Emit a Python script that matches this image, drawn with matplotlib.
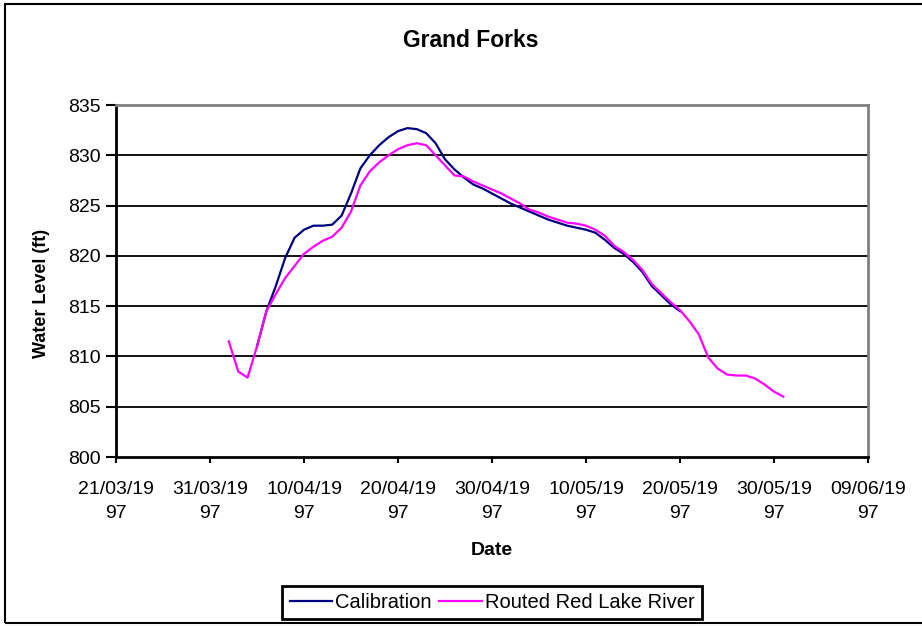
import matplotlib
matplotlib.use("Agg")
import matplotlib.pyplot as plt
from matplotlib.patches import Rectangle
from matplotlib.lines import Line2D
import pandas as pd

plt.rcParams["font.family"] = ["Liberation Sans", "DejaVu Sans"]

# daily water levels (ft)
calib_start = "1997-04-05"
calibration = [
    811.0, 814.5, 817.0, 819.8, 821.8, 822.6, 823.0, 823.0, 823.1, 824.0,
    826.2, 828.7, 830.0, 831.0, 831.8, 832.4, 832.7, 832.6, 832.2, 831.2,
    829.6, 828.6, 827.8, 827.1, 826.7, 826.2, 825.7, 825.2, 824.8, 824.4,
    824.0, 823.6, 823.3, 823.0, 822.8, 822.6, 822.3, 821.6, 820.8, 820.2,
    819.4, 818.4, 817.0, 816.1, 815.2, 814.5,
]

routed_start = "1997-04-02"
routed = [
    811.5, 808.5, 807.9, 811.0, 814.5, 816.2, 817.8, 819.0, 820.2, 820.9,
    821.5, 821.9, 822.8, 824.4, 827.0, 828.4, 829.3, 830.0, 830.6, 831.0,
    831.2, 831.0, 830.0, 829.0, 828.0, 827.9, 827.4, 827.0, 826.6, 826.2,
    825.7, 825.2, 824.6, 824.3, 823.9, 823.6, 823.3, 823.2, 823.0, 822.6,
    822.0, 821.0, 820.4, 819.6, 818.6, 817.2, 816.3, 815.4, 814.6, 813.5,
    812.2, 809.9, 808.8, 808.2, 808.1, 808.1, 807.8, 807.2, 806.5, 806.0,
]

calib_dates = pd.date_range(calib_start, periods=len(calibration), freq="D")
routed_dates = pd.date_range(routed_start, periods=len(routed), freq="D")

W, H = 922, 626
fig = plt.figure(figsize=(W / 100, H / 100), dpi=100)

# outer chart border
fig.patches.append(Rectangle((5 / W, 3 / H), 1.2, 1 - 7 / H, transform=fig.transFigure,
                             fill=False, edgecolor="black", linewidth=1.5))

ax = fig.add_axes([116 / W, 1 - 457 / H, (868 - 116) / W, (457 - 105) / H])

ax.plot(calib_dates, calibration, color="#000080", linewidth=1.6)
ax.plot(routed_dates, routed, color="#FF00FF", linewidth=1.6)

ax.set_xlim(pd.Timestamp("1997-03-21"), pd.Timestamp("1997-06-09"))
ax.set_ylim(800, 835)
ax.set_yticks(range(800, 836, 5))
ticks = pd.date_range("1997-03-21", "1997-06-09", freq="10D")
ax.set_xticks(ticks)
ax.set_xticklabels([d.strftime("%d/%m/%Y")[:8] + "\n" + d.strftime("%d/%m/%Y")[8:] for d in ticks],
                   linespacing=1.55)

for y in range(805, 835, 5):
    ax.axhline(y, color="black", linewidth=1.3, zorder=0)

for s in ["left", "bottom"]:
    ax.spines[s].set_linewidth(2)
    ax.spines[s].set_color("black")
for s in ["top", "right"]:
    ax.spines[s].set_linewidth(2)
    ax.spines[s].set_color("#808080")

ax.tick_params(axis="y", direction="out", length=7, width=1.5, pad=4, labelsize=14)
ax.tick_params(axis="x", direction="out", length=4.5, width=1.5, pad=12.5, labelsize=14)

fig.text(471 / W, 1 - 47 / H, "Grand Forks", ha="center", va="baseline",
         fontsize=16.5, fontweight="bold")
fig.text(492 / W, 1 - 555 / H, "Date", ha="center", va="baseline",
         fontsize=14, fontweight="bold")
fig.text(42 / W, 1 - 293 / H, "Water Level (ft)", ha="center", va="center",
         rotation=90, fontsize=13, fontweight="bold")

handles = [Line2D([], [], color="#000080", linewidth=1.6),
           Line2D([], [], color="#FF00FF", linewidth=1.6)]
leg = fig.legend(handles, ["Calibration", "Routed Red Lake River"], loc="center",
                 bbox_to_anchor=(492 / W, 1 - 602.5 / H), ncol=2, fontsize=14.5,
                 frameon=True, fancybox=False, edgecolor="black", framealpha=1,
                 handlelength=2.1, handletextpad=0.15, columnspacing=0.4,
                 borderpad=0.35, borderaxespad=0)
leg.get_frame().set_linewidth(2)

fig.savefig("out.png", dpi=100)
